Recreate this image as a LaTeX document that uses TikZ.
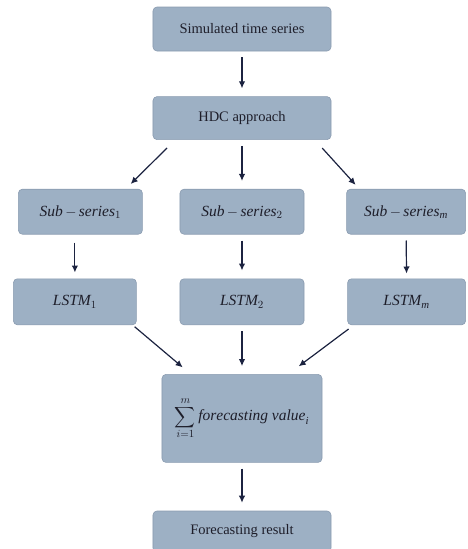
\documentclass[tikz,border=0pt]{standalone}
\usepackage{fontspec}
\setmainfont{Liberation Serif}
\usepackage{tikz}
\usetikzlibrary{arrows.meta,positioning}
\definecolor{BoxFill}{HTML}{9DB0C4}
\definecolor{BoxLine}{HTML}{8A9BB0}
\definecolor{ArrowNavy}{HTML}{1C2340}
\definecolor{InkDark}{HTML}{1E1E2A}
\newcommand{\bigsigma}{\mathop{\vcenter{\hbox{\scalebox{1.45}{$\displaystyle\sum$}}}}}

\begin{document}
\begin{tikzpicture}[
  node distance=45pt,
  b/.style={draw=BoxLine,line width=0.6pt,rounded corners=4pt,fill=BoxFill,
    align=center,text=InkDark,font=\fontsize{14.5}{17}\selectfont,inner sep=2pt},
  m/.style={b,font=\fontsize{15.5}{18}\selectfont},
  a/.style={-{Latex[length=7pt,width=6.5pt]},line width=1.2pt,color=ArrowNavy}
]
  \useasboundingbox (-242pt,29pt) rectangle (225pt,-520pt);
  \node[b,minimum width=178pt,minimum height=44pt] (sim) {Simulated time series};
  \node[b,minimum width=178pt,minimum height=43pt,below=45pt of sim] (hdc) {HDC approach};
  \node[m,minimum width=124pt,minimum height=45pt,below=49pt of hdc] (sub2) {$\mathit{Sub}\,{-}\,\mathit{series}_{2}$};
  \node[m,minimum width=124pt,minimum height=45pt,left=37pt of sub2] (sub1) {$\mathit{Sub}\,{-}\,\mathit{series}_{1}$};
  \node[m,minimum width=119pt,minimum height=45pt,right=42pt of sub2] (subm) {$\mathit{Sub}\,{-}\,\mathit{series}_{\mathit{m}}$};
  \node[m,minimum width=124pt,minimum height=46pt,below=44pt of sub2] (lstm2) {$\mathit{LSTM}_{2}$};
  \node[m,minimum width=123pt,minimum height=46pt,left=43pt of lstm2] (lstm1) {$\mathit{LSTM}_{1}$};
  \node[m,minimum width=118pt,minimum height=46pt,right=43pt of lstm2] (lstmm) {$\mathit{LSTM}_{\mathit{m}}$};
  \node[m,minimum width=160pt,minimum height=88pt,below=49pt of lstm2] (sum)
    {$\displaystyle\bigsigma\limits_{i=1}^{m}\mathit{forecasting\ value}_{\mathit{i}}$};
  \node[b,minimum width=178pt,minimum height=41pt,below=48pt of sum] (res) {Forecasting result};

  % straight down
  \foreach \x/\y in {sim/hdc,hdc/sub2,sub2/lstm2,lstm2/sum,sum/res}
    {\draw[a,shorten <=6pt,shorten >=8pt] (\x) -- (\y);}
  \draw[a,shorten <=8pt,shorten >=6pt] (lstm1.north |- sub1.south) -- (lstm1.north);
  \draw[a,shorten <=6pt,shorten >=5pt] (subm.south) -- (lstmm.north);
  % slanted
  \draw[a,shorten <=11.5pt,shorten >=7pt] ([xshift=22.5pt]hdc.south west) -- ([xshift=-17pt]sub1.north east);
  \draw[a,shorten <=11pt,shorten >=5.5pt] ([xshift=-16.5pt]hdc.south east) -- ([xshift=13pt]subm.north west);
  \draw[a,shorten <=2.5pt,shorten >=10.5pt] ([xshift=-4pt]lstm1.south east) -- ([xshift=29pt]sum.north west);
  \draw[a,shorten <=6.5pt,shorten >=13pt] ([xshift=6.5pt]lstmm.south west) -- ([xshift=-34pt]sum.north east);
\end{tikzpicture}
\end{document}
